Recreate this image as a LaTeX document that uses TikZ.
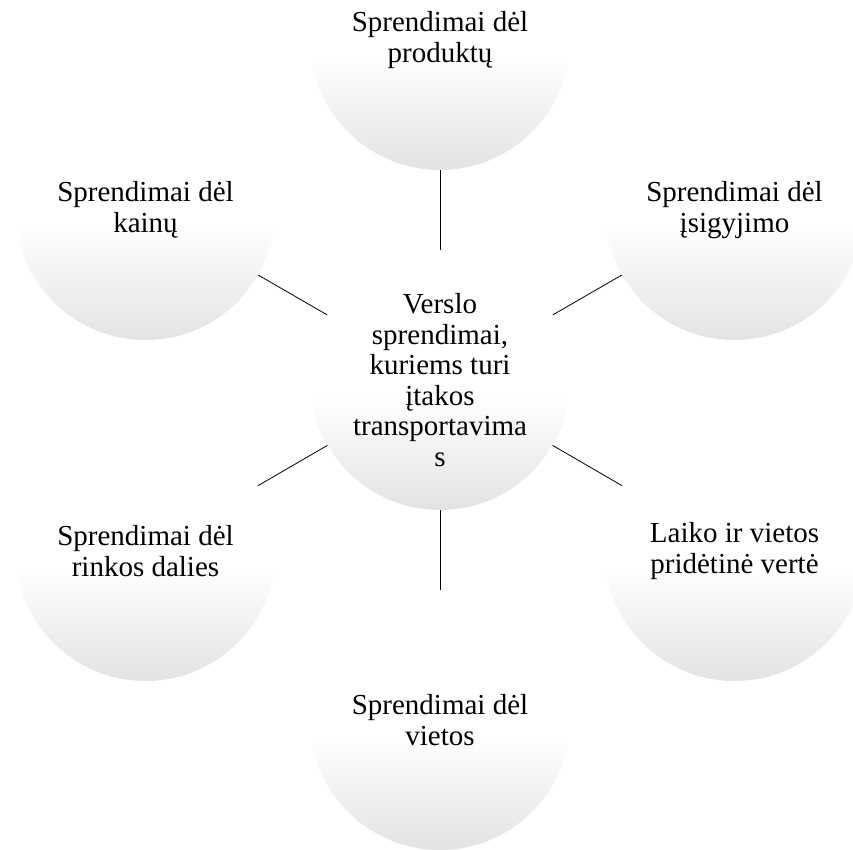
\documentclass[tikz,border=0pt]{standalone}
\usepackage{fontspec}
\setmainfont{Liberation Serif}
\pgfdeclareverticalshading{bubshade}{100bp}{color(0bp)=(black!11); color(25bp)=(black!11); color(47bp)=(white); color(75bp)=(white); color(100bp)=(white)}
\begin{document}
\begin{tikzpicture}[x=1pt,y=-1pt,
  bubble/.style={circle, minimum size=260pt, inner sep=0pt,
    shading=bubshade,
    align=center, font=\fontsize{29}{30.5}\selectfont},
  spoke/.style={draw=black, line width=0.8pt}]
\useasboundingbox (0,0) rectangle (853,850);
\clip (0,0) rectangle (853,850);
\node[bubble] (c) at (440,380) {Verslo\\sprendimai,\\kuriems turi\\įtakos\\transportavima\\s};
\node[bubble] (t) at (440,40) {Sprendimai dėl\\produktų};
\node[bubble] (ur) at (734.5,210) {Sprendimai dėl\\įsigyjimo};
\node[bubble] (lr) at (734.5,551) {Laiko ir vietos\\pridėtinė vertė};
\node[bubble] (b) at (440,720) {Sprendimai dėl\\vietos};
\node[bubble] (ll) at (145.5,551) {Sprendimai dėl\\rinkos dalies};
\node[bubble] (ul) at (145.5,210) {Sprendimai dėl\\kainų};
\foreach \n in {t,ur,lr,b,ll,ul}{\draw[spoke] (c) -- (\n);}
\end{tikzpicture}
\end{document}
